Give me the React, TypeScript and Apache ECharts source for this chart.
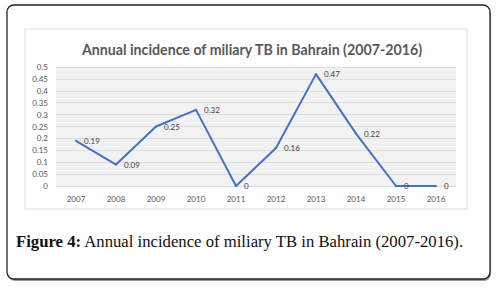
import React, { useEffect, useRef } from "react";
import * as echarts from "echarts";

const years = ["2007", "2008", "2009", "2010", "2011", "2012", "2013", "2014", "2015", "2016"];
const incidence = [0.19, 0.09, 0.25, 0.32, 0, 0.16, 0.47, 0.22, 0, 0];
const yMax = 0.5;
const yStep = 0.05;
const chartTitle = "Annual incidence of miliary TB in Bahrain (2007-2016)";
const captionBold = "Figure 4:";
const captionText = " Annual incidence of miliary TB in Bahrain (2007-2016).";

export default function App() {
  const ref = useRef<HTMLDivElement>(null);
  useEffect(() => {
    if (!ref.current) return;
    const chart = echarts.init(ref.current, null, { renderer: "svg" });
    chart.setOption({
      animation: false,
      backgroundColor: "#ffffff",
      graphic: [
        {
          type: "rect",
          z: -10,
          shape: { x: 8, y: 7, width: 483, height: 274, r: 7 },
          style: { fill: "#9a9a9a" },
          silent: true,
        },
        {
          type: "rect",
          z: -9,
          shape: { x: 7, y: 5, width: 483, height: 274, r: 7 },
          style: { fill: "#ffffff", stroke: "#222222", lineWidth: 1.3 },
          silent: true,
        },
        {
          type: "rect",
          z: -8,
          shape: { x: 25, y: 29, width: 442, height: 180 },
          style: { fill: "#ffffff", stroke: "#dddddd", lineWidth: 1 },
          silent: true,
        },
        {
          type: "text",
          z: 5,
          x: 16,
          y: 241,
          style: {
            text: "{b|" + captionBold + "}{n|" + captionText + "}",
            verticalAlign: "middle",
            rich: {
              b: { fontFamily: "Liberation Serif", fontWeight: "bold", fontSize: 16.7, fill: "#111111" },
              n: { fontFamily: "Liberation Serif", fontSize: 16.7, fill: "#111111" },
            },
          },
        },
      ],
      title: {
        text: chartTitle,
        left: 247,
        top: 37,
        textAlign: "center",
        textStyle: { fontFamily: "Lato", fontWeight: "bold", fontSize: 14.2, color: "#595959" },
      },
      grid: {
        left: 56,
        top: 67,
        width: 400,
        height: 119,
        show: true,
        backgroundColor: "#f2f2f2",
        borderWidth: 0,
      },
      xAxis: {
        type: "category",
        data: years,
        boundaryGap: true,
        axisLine: { show: false },
        axisTick: { show: false },
        axisLabel: { color: "#595959", fontFamily: "Lato", fontSize: 8, margin: 9 },
      },
      yAxis: {
        type: "value",
        min: 0,
        max: yMax,
        interval: yStep,
        axisLine: { show: false },
        axisTick: { show: false },
        splitLine: { lineStyle: { color: "#dedede", width: 1 } },
        axisLabel: {
          color: "#595959",
          fontFamily: "Lato",
          fontSize: 8,
          margin: 8,
          formatter: (v: number) => String(Math.round(v * 100) / 100),
        },
      },
      series: [
        {
          type: "line",
          data: incidence,
          symbol: "circle",
          symbolSize: 2,
          showSymbol: true,
          showAllSymbol: true,
          itemStyle: { color: "#4472c4", borderWidth: 0 },
          lineStyle: { color: "#4472c4", width: 2 },
          label: {
            show: true,
            position: "right",
            distance: 7,
            color: "#404040",
            fontFamily: "Lato",
            fontSize: 8,
            formatter: (p: any) => String(p.value),
          },
        },
      ],
    });
    return () => chart.dispose();
  }, []);
  return <div ref={ref} style={{ position: "fixed", left: 0, top: 0, width: 500, height: 289 }} />;
}
